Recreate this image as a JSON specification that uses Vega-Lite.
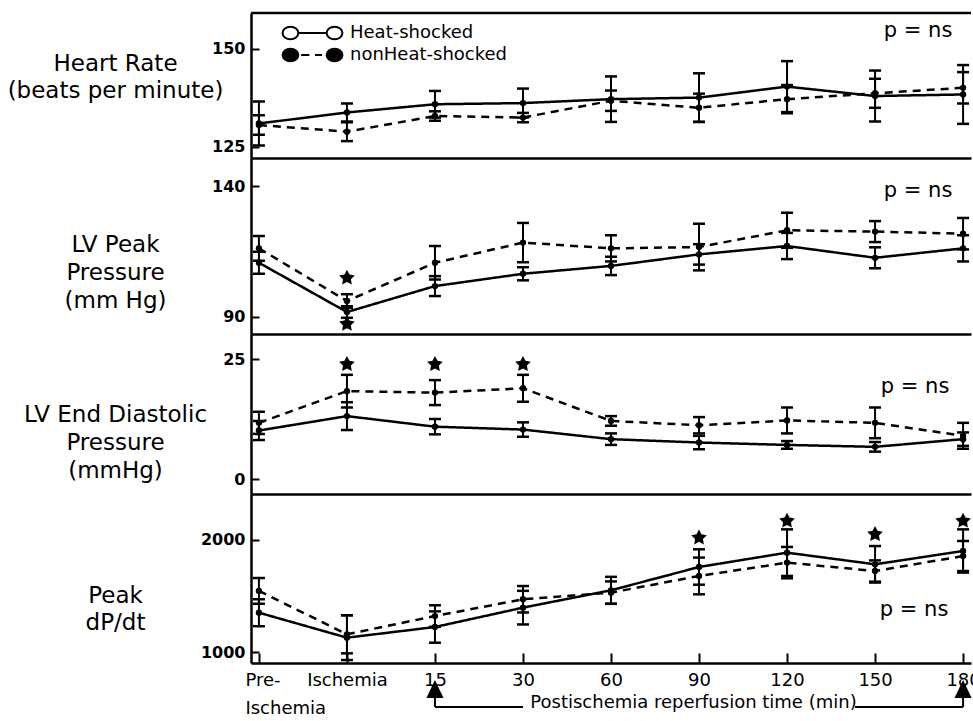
{
  "$schema": "https://vega.github.io/schema/vega-lite/v6.json",
  "background": "white",
  "padding": {"left": 7, "top": 11, "right": 0, "bottom": 2},
  "spacing": 0,
  "bounds": "flush",
  "resolve": {"scale": {"shape": "independent", "fill": "independent", "stroke": "independent"}, "legend": {"shape": "independent", "fill": "independent", "stroke": "independent"}},
  "config": {
    "font": "DejaVu Sans",
    "view": {"stroke": null},
    "axis": {"domainColor": "black", "domainWidth": 2.5, "tickColor": "black", "tickWidth": 2, "grid": false, "labelColor": "black", "titleColor": "black", "labelFont": "DejaVu Sans", "titleFont": "DejaVu Sans"}
  },
  "datasets": {
    "pts": [
      {"p": "HR", "t": "Pre-Ischemia", "s": "Heat-shocked", "v": 131.0, "lo": 125.4, "hi": 136.6},
      {"p": "HR", "t": "Pre-Ischemia", "s": "nonHeat-shocked", "v": 130.6, "lo": 128.1, "hi": 133.1},
      {"p": "HR", "t": "Ischemia", "s": "Heat-shocked", "v": 133.8, "lo": 131.5, "hi": 136.1},
      {"p": "HR", "t": "Ischemia", "s": "nonHeat-shocked", "v": 128.9, "lo": 126.5, "hi": 131.3},
      {"p": "HR", "t": "15", "s": "Heat-shocked", "v": 135.9, "lo": 132.5, "hi": 139.3},
      {"p": "HR", "t": "15", "s": "nonHeat-shocked", "v": 132.9, "lo": 131.7, "hi": 134.1},
      {"p": "HR", "t": "30", "s": "Heat-shocked", "v": 136.2, "lo": 132.5, "hi": 139.9},
      {"p": "HR", "t": "30", "s": "nonHeat-shocked", "v": 132.5, "lo": 131.3, "hi": 133.7},
      {"p": "HR", "t": "60", "s": "Heat-shocked", "v": 137.2, "lo": 131.4, "hi": 143.0},
      {"p": "HR", "t": "60", "s": "nonHeat-shocked", "v": 136.8, "lo": 134.2, "hi": 139.4},
      {"p": "HR", "t": "90", "s": "Heat-shocked", "v": 137.6, "lo": 131.4, "hi": 143.8},
      {"p": "HR", "t": "90", "s": "nonHeat-shocked", "v": 135.0, "lo": 131.4, "hi": 138.6},
      {"p": "HR", "t": "120", "s": "Heat-shocked", "v": 140.4, "lo": 133.9, "hi": 146.9},
      {"p": "HR", "t": "120", "s": "nonHeat-shocked", "v": 137.2, "lo": 133.6, "hi": 140.8},
      {"p": "HR", "t": "150", "s": "Heat-shocked", "v": 138.0, "lo": 131.5, "hi": 144.5},
      {"p": "HR", "t": "150", "s": "nonHeat-shocked", "v": 138.7, "lo": 135.0, "hi": 142.4},
      {"p": "HR", "t": "180", "s": "Heat-shocked", "v": 138.4, "lo": 130.9, "hi": 145.9},
      {"p": "HR", "t": "180", "s": "nonHeat-shocked", "v": 140.1, "lo": 136.1, "hi": 144.1},

      {"p": "LVP", "t": "Pre-Ischemia", "s": "Heat-shocked", "v": 110.7, "lo": 106.5, "hi": 114.9},
      {"p": "LVP", "t": "Pre-Ischemia", "s": "nonHeat-shocked", "v": 116.2, "lo": 111.5, "hi": 120.9},
      {"p": "LVP", "t": "Ischemia", "s": "Heat-shocked", "v": 91.9, "lo": 89.7, "hi": 94.1},
      {"p": "LVP", "t": "Ischemia", "s": "nonHeat-shocked", "v": 96.1, "lo": 93.5, "hi": 98.7},
      {"p": "LVP", "t": "15", "s": "Heat-shocked", "v": 101.8, "lo": 98.0, "hi": 105.6},
      {"p": "LVP", "t": "15", "s": "nonHeat-shocked", "v": 110.7, "lo": 104.3, "hi": 117.1},
      {"p": "LVP", "t": "30", "s": "Heat-shocked", "v": 106.5, "lo": 104.0, "hi": 109.0},
      {"p": "LVP", "t": "30", "s": "nonHeat-shocked", "v": 118.4, "lo": 110.9, "hi": 125.9},
      {"p": "LVP", "t": "60", "s": "Heat-shocked", "v": 109.5, "lo": 106.0, "hi": 113.0},
      {"p": "LVP", "t": "60", "s": "nonHeat-shocked", "v": 116.2, "lo": 111.2, "hi": 121.2},
      {"p": "LVP", "t": "90", "s": "Heat-shocked", "v": 113.9, "lo": 110.0, "hi": 117.8},
      {"p": "LVP", "t": "90", "s": "nonHeat-shocked", "v": 116.7, "lo": 107.8, "hi": 125.6},
      {"p": "LVP", "t": "120", "s": "Heat-shocked", "v": 117.1, "lo": 112.1, "hi": 122.1},
      {"p": "LVP", "t": "120", "s": "nonHeat-shocked", "v": 123.1, "lo": 116.4, "hi": 129.8},
      {"p": "LVP", "t": "150", "s": "Heat-shocked", "v": 112.6, "lo": 108.6, "hi": 116.6},
      {"p": "LVP", "t": "150", "s": "nonHeat-shocked", "v": 122.6, "lo": 118.6, "hi": 126.6},
      {"p": "LVP", "t": "180", "s": "Heat-shocked", "v": 116.2, "lo": 111.2, "hi": 121.2},
      {"p": "LVP", "t": "180", "s": "nonHeat-shocked", "v": 121.8, "lo": 115.8, "hi": 127.8},

      {"p": "EDP", "t": "Pre-Ischemia", "s": "Heat-shocked", "v": 10.1, "lo": 8.1, "hi": 12.1},
      {"p": "EDP", "t": "Pre-Ischemia", "s": "nonHeat-shocked", "v": 11.7, "lo": 9.4, "hi": 14.0},
      {"p": "EDP", "t": "Ischemia", "s": "Heat-shocked", "v": 13.1, "lo": 10.2, "hi": 16.0},
      {"p": "EDP", "t": "Ischemia", "s": "nonHeat-shocked", "v": 18.3, "lo": 14.9, "hi": 21.7},
      {"p": "EDP", "t": "15", "s": "Heat-shocked", "v": 10.9, "lo": 9.3, "hi": 12.5},
      {"p": "EDP", "t": "15", "s": "nonHeat-shocked", "v": 18.0, "lo": 15.4, "hi": 20.6},
      {"p": "EDP", "t": "30", "s": "Heat-shocked", "v": 10.3, "lo": 8.8, "hi": 11.8},
      {"p": "EDP", "t": "30", "s": "nonHeat-shocked", "v": 18.9, "lo": 16.1, "hi": 21.7},
      {"p": "EDP", "t": "60", "s": "Heat-shocked", "v": 8.3, "lo": 7.1, "hi": 9.5},
      {"p": "EDP", "t": "60", "s": "nonHeat-shocked", "v": 12.1, "lo": 11.1, "hi": 13.1},
      {"p": "EDP", "t": "90", "s": "Heat-shocked", "v": 7.6, "lo": 6.2, "hi": 9.0},
      {"p": "EDP", "t": "90", "s": "nonHeat-shocked", "v": 11.2, "lo": 9.5, "hi": 12.9},
      {"p": "EDP", "t": "120", "s": "Heat-shocked", "v": 7.1, "lo": 6.3, "hi": 7.9},
      {"p": "EDP", "t": "120", "s": "nonHeat-shocked", "v": 12.2, "lo": 9.5, "hi": 14.9},
      {"p": "EDP", "t": "150", "s": "Heat-shocked", "v": 6.7, "lo": 5.7, "hi": 7.7},
      {"p": "EDP", "t": "150", "s": "nonHeat-shocked", "v": 11.7, "lo": 8.5, "hi": 14.9},
      {"p": "EDP", "t": "180", "s": "Heat-shocked", "v": 8.3, "lo": 6.9, "hi": 9.7},
      {"p": "EDP", "t": "180", "s": "nonHeat-shocked", "v": 9.0, "lo": 6.3, "hi": 11.7},

      {"p": "DPDT", "t": "Pre-Ischemia", "s": "Heat-shocked", "v": 1351, "lo": 1231, "hi": 1471},
      {"p": "DPDT", "t": "Pre-Ischemia", "s": "nonHeat-shocked", "v": 1545, "lo": 1430, "hi": 1660},
      {"p": "DPDT", "t": "Ischemia", "s": "Heat-shocked", "v": 1128, "lo": 928, "hi": 1328},
      {"p": "DPDT", "t": "Ischemia", "s": "nonHeat-shocked", "v": 1158, "lo": 988, "hi": 1328},
      {"p": "DPDT", "t": "15", "s": "Heat-shocked", "v": 1223, "lo": 1083, "hi": 1363},
      {"p": "DPDT", "t": "15", "s": "nonHeat-shocked", "v": 1321, "lo": 1225, "hi": 1417},
      {"p": "DPDT", "t": "30", "s": "Heat-shocked", "v": 1396, "lo": 1246, "hi": 1546},
      {"p": "DPDT", "t": "30", "s": "nonHeat-shocked", "v": 1471, "lo": 1353, "hi": 1589},
      {"p": "DPDT", "t": "60", "s": "Heat-shocked", "v": 1551, "lo": 1431, "hi": 1671},
      {"p": "DPDT", "t": "60", "s": "nonHeat-shocked", "v": 1530, "lo": 1430, "hi": 1630},
      {"p": "DPDT", "t": "90", "s": "Heat-shocked", "v": 1759, "lo": 1601, "hi": 1917},
      {"p": "DPDT", "t": "90", "s": "nonHeat-shocked", "v": 1679, "lo": 1515, "hi": 1843},
      {"p": "DPDT", "t": "120", "s": "Heat-shocked", "v": 1887, "lo": 1679, "hi": 2095},
      {"p": "DPDT", "t": "120", "s": "nonHeat-shocked", "v": 1798, "lo": 1658, "hi": 1938},
      {"p": "DPDT", "t": "150", "s": "Heat-shocked", "v": 1783, "lo": 1620, "hi": 1946},
      {"p": "DPDT", "t": "150", "s": "nonHeat-shocked", "v": 1723, "lo": 1628, "hi": 1818},
      {"p": "DPDT", "t": "180", "s": "Heat-shocked", "v": 1902, "lo": 1709, "hi": 2095},
      {"p": "DPDT", "t": "180", "s": "nonHeat-shocked", "v": 1857, "lo": 1723, "hi": 1991}
    ],
    "stars": [
      {"p": "LVP", "t": "Ischemia", "v": 104.9},
      {"p": "LVP", "t": "Ischemia", "v": 87.3},
      {"p": "EDP", "t": "Ischemia", "v": 23.9},
      {"p": "EDP", "t": "15", "v": 23.9},
      {"p": "EDP", "t": "30", "v": 23.9},
      {"p": "DPDT", "t": "90", "v": 2020},
      {"p": "DPDT", "t": "120", "v": 2170},
      {"p": "DPDT", "t": "150", "v": 2051},
      {"p": "DPDT", "t": "180", "v": 2170}
    ],
    "notes": [
      {"p": "HR", "t": "150", "v": 153.1, "label": "p = ns"},
      {"p": "LVP", "t": "150", "v": 135.8, "label": "p = ns"},
      {"p": "EDP", "t": "150", "v": 17.9, "label": "p = ns"},
      {"p": "DPDT", "t": "150", "v": 1321, "label": "p = ns"}
    ],
    "leg": [
      {"series": "Heat-shocked"},
      {"series": "nonHeat-shocked"}
    ],
    "arrows": [
      {"t": "15", "v": 670, "top": 589, "bottom": 509},
      {"t": "180", "v": 670, "top": 589, "bottom": 509}
    ],
    "spans": [
      {"a": "15", "b": "30", "v": 509}
    ],
    "spans2": [
      {"a": "150", "b": "180", "v": 509}
    ]
  },
  "vconcat": [
    {
      "width": 720,
      "height": 145,
      "layer": [
        {"data": {"values": [{"top": 159.18}]}, "mark": {"type": "rule", "color": "black", "strokeWidth": 2.5},
         "encoding": {"y": {"field": "top", "type": "quantitative", "scale": {"domain": [122.19, 159.18], "zero": false, "nice": false}}}},
        {"data": {"name": "pts"}, "transform": [{"filter": "datum.p === 'HR'"}],
         "mark": {"type": "line", "color": "black", "strokeWidth": 2.5},
         "encoding": {
           "x": {"field": "t", "type": "ordinal", "scale": {"type": "point", "domain": ["Pre-Ischemia", "Ischemia", "15", "30", "60", "90", "120", "150", "180"], "padding": 0.09}, "axis": {"labels": false, "ticks": false, "title": null}},
           "y": {"field": "v", "type": "quantitative", "scale": {"domain": [122.19, 159.18], "zero": false, "nice": false},
                 "axis": {"values": [125, 150], "title": ["Heart Rate", "(beats per minute)"], "titleY": 50, "titleX": -136, "titleAngle": 0, "titleAlign": "center", "titleBaseline": "middle", "titleFontSize": 23, "titleFontWeight": "normal", "titleLineHeight": 27, "tickSize": -8, "labelPadding": 14, "labelFontSize": 16, "labelFontWeight": "bold"}},
           "strokeDash": {"field": "s", "type": "nominal", "scale": {"domain": ["Heat-shocked", "nonHeat-shocked"], "range": [[1, 0], [8, 6]]}, "legend": null}
         }},
        {"data": {"name": "pts"}, "transform": [{"filter": "datum.p === 'HR'"}],
         "mark": {"type": "rule", "color": "black", "strokeWidth": 2},
         "encoding": {
           "x": {"field": "t", "type": "ordinal", "scale": {"type": "point", "domain": ["Pre-Ischemia", "Ischemia", "15", "30", "60", "90", "120", "150", "180"], "padding": 0.09}, "axis": {"labels": false, "ticks": false, "title": null}},
           "y": {"field": "lo", "type": "quantitative", "scale": {"domain": [122.19, 159.18], "zero": false, "nice": false}},
           "y2": {"field": "hi"}
         }},
        {"data": {"name": "pts"}, "transform": [{"filter": "datum.p === 'HR'"}],
         "mark": {"type": "tick", "color": "black", "size": 12, "thickness": 2.5, "orient": "horizontal", "opacity": 1},
         "encoding": {
           "x": {"field": "t", "type": "ordinal", "scale": {"type": "point", "domain": ["Pre-Ischemia", "Ischemia", "15", "30", "60", "90", "120", "150", "180"], "padding": 0.09}, "axis": {"labels": false, "ticks": false, "title": null}},
           "y": {"field": "lo", "type": "quantitative", "scale": {"domain": [122.19, 159.18], "zero": false, "nice": false}}
         }},
        {"data": {"name": "pts"}, "transform": [{"filter": "datum.p === 'HR'"}],
         "mark": {"type": "tick", "color": "black", "size": 12, "thickness": 2.5, "orient": "horizontal", "opacity": 1},
         "encoding": {
           "x": {"field": "t", "type": "ordinal", "scale": {"type": "point", "domain": ["Pre-Ischemia", "Ischemia", "15", "30", "60", "90", "120", "150", "180"], "padding": 0.09}, "axis": {"labels": false, "ticks": false, "title": null}},
           "y": {"field": "hi", "type": "quantitative", "scale": {"domain": [122.19, 159.18], "zero": false, "nice": false}}
         }},
        {"data": {"name": "pts"}, "transform": [{"filter": "datum.p === 'HR'"}],
         "mark": {"type": "point", "filled": true, "color": "black", "size": 40, "opacity": 1},
         "encoding": {
           "x": {"field": "t", "type": "ordinal", "scale": {"type": "point", "domain": ["Pre-Ischemia", "Ischemia", "15", "30", "60", "90", "120", "150", "180"], "padding": 0.09}, "axis": {"labels": false, "ticks": false, "title": null}},
           "y": {"field": "v", "type": "quantitative", "scale": {"domain": [122.19, 159.18], "zero": false, "nice": false}}
         }},
        {"data": {"name": "notes"}, "transform": [{"filter": "datum.p === 'HR'"}],
         "mark": {"type": "text", "fontSize": 21, "align": "center", "baseline": "alphabetic", "dx": 43, "color": "black", "font": "DejaVu Sans"},
         "encoding": {
           "x": {"field": "t", "type": "ordinal", "scale": {"type": "point", "domain": ["Pre-Ischemia", "Ischemia", "15", "30", "60", "90", "120", "150", "180"], "padding": 0.09}, "axis": {"labels": false, "ticks": false, "title": null}},
           "y": {"field": "v", "type": "quantitative", "scale": {"domain": [122.19, 159.18], "zero": false, "nice": false}},
           "text": {"field": "label"}
         }},
        {"data": {"name": "leg"},
         "mark": {"type": "point", "size": 3969, "strokeWidth": 2, "opacity": 0},
         "encoding": {
           "shape": {"field": "series", "type": "nominal",
             "scale": {"domain": ["Heat-shocked", "nonHeat-shocked"],
                       "range": ["M-0.95,0A0.25,0.2 0 1,0 -0.45,0A0.25,0.2 0 1,0 -0.95,0ZM-0.45,0L0.45,0M0.45,0A0.25,0.2 0 1,0 0.95,0A0.25,0.2 0 1,0 0.45,0Z",
                                 "M-0.95,0A0.25,0.2 0 1,0 -0.45,0A0.25,0.2 0 1,0 -0.95,0ZM-0.36,0L-0.1,0M0.08,0L0.3,0M0.45,0A0.25,0.2 0 1,0 0.95,0A0.25,0.2 0 1,0 0.45,0Z"]},
             "legend": {"orient": "none", "legendX": 29, "legendY": 9, "title": null, "padding": 0, "clipHeight": 22, "rowPadding": 0, "labelOffset": 5, "labelFontSize": 18, "labelFont": "DejaVu Sans", "labelColor": "black", "symbolSize": 3969, "symbolOpacity": 1, "symbolStrokeWidth": 2}
           },
           "fill": {"field": "series", "type": "nominal",
             "scale": {"domain": ["Heat-shocked", "nonHeat-shocked"], "range": ["white", "black"]},
             "legend": {"orient": "none", "legendX": 29, "legendY": 9, "title": null, "padding": 0, "clipHeight": 22, "rowPadding": 0, "labelOffset": 5, "labelFontSize": 18, "labelFont": "DejaVu Sans", "labelColor": "black", "symbolSize": 3969, "symbolOpacity": 1, "symbolStrokeWidth": 2}
           },
           "stroke": {"field": "series", "type": "nominal",
             "scale": {"domain": ["Heat-shocked", "nonHeat-shocked"], "range": ["black", "black"]},
             "legend": {"orient": "none", "legendX": 29, "legendY": 9, "title": null, "padding": 0, "clipHeight": 22, "rowPadding": 0, "labelOffset": 5, "labelFontSize": 18, "labelFont": "DejaVu Sans", "labelColor": "black", "symbolSize": 3969, "symbolOpacity": 1, "symbolStrokeWidth": 2}
           }
         }}
      ]
    },
    {
      "width": 720,
      "height": 176,
      "layer": [
        {"data": {"name": "pts"}, "transform": [{"filter": "datum.p === 'LVP'"}],
         "mark": {"type": "line", "color": "black", "strokeWidth": 2.5},
         "encoding": {
           "x": {"field": "t", "type": "ordinal", "scale": {"type": "point", "domain": ["Pre-Ischemia", "Ischemia", "15", "30", "60", "90", "120", "150", "180"], "padding": 0.09}, "axis": {"labels": false, "ticks": false, "title": null}},
           "y": {"field": "v", "type": "quantitative", "scale": {"domain": [83.51, 150.69], "zero": false, "nice": false},
                 "axis": {"values": [90, 140], "title": ["LV Peak", "Pressure", "(mm Hg)"], "titleY": 86, "titleX": -136, "titleAngle": 0, "titleAlign": "center", "titleBaseline": "middle", "titleFontSize": 23, "titleFontWeight": "normal", "titleLineHeight": 28, "tickSize": -8, "labelPadding": 14, "labelFontSize": 16, "labelFontWeight": "bold"}},
           "strokeDash": {"field": "s", "type": "nominal", "scale": {"domain": ["Heat-shocked", "nonHeat-shocked"], "range": [[1, 0], [8, 6]]}, "legend": null}
         }},
        {"data": {"name": "pts"}, "transform": [{"filter": "datum.p === 'LVP'"}],
         "mark": {"type": "rule", "color": "black", "strokeWidth": 2},
         "encoding": {
           "x": {"field": "t", "type": "ordinal", "scale": {"type": "point", "domain": ["Pre-Ischemia", "Ischemia", "15", "30", "60", "90", "120", "150", "180"], "padding": 0.09}, "axis": {"labels": false, "ticks": false, "title": null}},
           "y": {"field": "lo", "type": "quantitative", "scale": {"domain": [83.51, 150.69], "zero": false, "nice": false}},
           "y2": {"field": "hi"}
         }},
        {"data": {"name": "pts"}, "transform": [{"filter": "datum.p === 'LVP'"}],
         "mark": {"type": "tick", "color": "black", "size": 12, "thickness": 2.5, "orient": "horizontal", "opacity": 1},
         "encoding": {
           "x": {"field": "t", "type": "ordinal", "scale": {"type": "point", "domain": ["Pre-Ischemia", "Ischemia", "15", "30", "60", "90", "120", "150", "180"], "padding": 0.09}, "axis": {"labels": false, "ticks": false, "title": null}},
           "y": {"field": "lo", "type": "quantitative", "scale": {"domain": [83.51, 150.69], "zero": false, "nice": false}}
         }},
        {"data": {"name": "pts"}, "transform": [{"filter": "datum.p === 'LVP'"}],
         "mark": {"type": "tick", "color": "black", "size": 12, "thickness": 2.5, "orient": "horizontal", "opacity": 1},
         "encoding": {
           "x": {"field": "t", "type": "ordinal", "scale": {"type": "point", "domain": ["Pre-Ischemia", "Ischemia", "15", "30", "60", "90", "120", "150", "180"], "padding": 0.09}, "axis": {"labels": false, "ticks": false, "title": null}},
           "y": {"field": "hi", "type": "quantitative", "scale": {"domain": [83.51, 150.69], "zero": false, "nice": false}}
         }},
        {"data": {"name": "pts"}, "transform": [{"filter": "datum.p === 'LVP'"}],
         "mark": {"type": "point", "filled": true, "color": "black", "size": 40, "opacity": 1},
         "encoding": {
           "x": {"field": "t", "type": "ordinal", "scale": {"type": "point", "domain": ["Pre-Ischemia", "Ischemia", "15", "30", "60", "90", "120", "150", "180"], "padding": 0.09}, "axis": {"labels": false, "ticks": false, "title": null}},
           "y": {"field": "v", "type": "quantitative", "scale": {"domain": [83.51, 150.69], "zero": false, "nice": false}}
         }},
        {"data": {"name": "stars"}, "transform": [{"filter": "datum.p === 'LVP'"}],
         "mark": {"type": "point", "filled": true, "color": "black", "size": 270, "opacity": 1, "shape": "M0,-1L0.3,-0.42L0.951,-0.309L0.48,0.15L0.588,0.809L0,0.5L-0.588,0.809L-0.48,0.15L-0.951,-0.309L-0.3,-0.42Z"},
         "encoding": {
           "x": {"field": "t", "type": "ordinal", "scale": {"type": "point", "domain": ["Pre-Ischemia", "Ischemia", "15", "30", "60", "90", "120", "150", "180"], "padding": 0.09}, "axis": {"labels": false, "ticks": false, "title": null}},
           "y": {"field": "v", "type": "quantitative", "scale": {"domain": [83.51, 150.69], "zero": false, "nice": false}}
         }},
        {"data": {"name": "notes"}, "transform": [{"filter": "datum.p === 'LVP'"}],
         "mark": {"type": "text", "fontSize": 21, "align": "center", "baseline": "alphabetic", "dx": 43, "color": "black", "font": "DejaVu Sans"},
         "encoding": {
           "x": {"field": "t", "type": "ordinal", "scale": {"type": "point", "domain": ["Pre-Ischemia", "Ischemia", "15", "30", "60", "90", "120", "150", "180"], "padding": 0.09}, "axis": {"labels": false, "ticks": false, "title": null}},
           "y": {"field": "v", "type": "quantitative", "scale": {"domain": [83.51, 150.69], "zero": false, "nice": false}},
           "text": {"field": "label"}
         }}
      ]
    },
    {
      "width": 720,
      "height": 160,
      "layer": [
        {"data": {"name": "pts"}, "transform": [{"filter": "datum.p === 'EDP'"}],
         "mark": {"type": "line", "color": "black", "strokeWidth": 2.5},
         "encoding": {
           "x": {"field": "t", "type": "ordinal", "scale": {"type": "point", "domain": ["Pre-Ischemia", "Ischemia", "15", "30", "60", "90", "120", "150", "180"], "padding": 0.09}, "axis": {"labels": false, "ticks": false, "title": null}},
           "y": {"field": "v", "type": "quantitative", "scale": {"domain": [-3.125, 30.21], "zero": false, "nice": false},
                 "axis": {"values": [0, 25], "title": ["LV End Diastolic", "Pressure", "(mmHg)"], "titleY": 80, "titleX": -136, "titleAngle": 0, "titleAlign": "center", "titleBaseline": "middle", "titleFontSize": 23, "titleFontWeight": "normal", "titleLineHeight": 28, "tickSize": -8, "labelPadding": 14, "labelFontSize": 16, "labelFontWeight": "bold"}},
           "strokeDash": {"field": "s", "type": "nominal", "scale": {"domain": ["Heat-shocked", "nonHeat-shocked"], "range": [[1, 0], [8, 6]]}, "legend": null}
         }},
        {"data": {"name": "pts"}, "transform": [{"filter": "datum.p === 'EDP'"}],
         "mark": {"type": "rule", "color": "black", "strokeWidth": 2},
         "encoding": {
           "x": {"field": "t", "type": "ordinal", "scale": {"type": "point", "domain": ["Pre-Ischemia", "Ischemia", "15", "30", "60", "90", "120", "150", "180"], "padding": 0.09}, "axis": {"labels": false, "ticks": false, "title": null}},
           "y": {"field": "lo", "type": "quantitative", "scale": {"domain": [-3.125, 30.21], "zero": false, "nice": false}},
           "y2": {"field": "hi"}
         }},
        {"data": {"name": "pts"}, "transform": [{"filter": "datum.p === 'EDP'"}],
         "mark": {"type": "tick", "color": "black", "size": 12, "thickness": 2.5, "orient": "horizontal", "opacity": 1},
         "encoding": {
           "x": {"field": "t", "type": "ordinal", "scale": {"type": "point", "domain": ["Pre-Ischemia", "Ischemia", "15", "30", "60", "90", "120", "150", "180"], "padding": 0.09}, "axis": {"labels": false, "ticks": false, "title": null}},
           "y": {"field": "lo", "type": "quantitative", "scale": {"domain": [-3.125, 30.21], "zero": false, "nice": false}}
         }},
        {"data": {"name": "pts"}, "transform": [{"filter": "datum.p === 'EDP'"}],
         "mark": {"type": "tick", "color": "black", "size": 12, "thickness": 2.5, "orient": "horizontal", "opacity": 1},
         "encoding": {
           "x": {"field": "t", "type": "ordinal", "scale": {"type": "point", "domain": ["Pre-Ischemia", "Ischemia", "15", "30", "60", "90", "120", "150", "180"], "padding": 0.09}, "axis": {"labels": false, "ticks": false, "title": null}},
           "y": {"field": "hi", "type": "quantitative", "scale": {"domain": [-3.125, 30.21], "zero": false, "nice": false}}
         }},
        {"data": {"name": "pts"}, "transform": [{"filter": "datum.p === 'EDP'"}],
         "mark": {"type": "point", "filled": true, "color": "black", "size": 40, "opacity": 1},
         "encoding": {
           "x": {"field": "t", "type": "ordinal", "scale": {"type": "point", "domain": ["Pre-Ischemia", "Ischemia", "15", "30", "60", "90", "120", "150", "180"], "padding": 0.09}, "axis": {"labels": false, "ticks": false, "title": null}},
           "y": {"field": "v", "type": "quantitative", "scale": {"domain": [-3.125, 30.21], "zero": false, "nice": false}}
         }},
        {"data": {"name": "stars"}, "transform": [{"filter": "datum.p === 'EDP'"}],
         "mark": {"type": "point", "filled": true, "color": "black", "size": 270, "opacity": 1, "shape": "M0,-1L0.3,-0.42L0.951,-0.309L0.48,0.15L0.588,0.809L0,0.5L-0.588,0.809L-0.48,0.15L-0.951,-0.309L-0.3,-0.42Z"},
         "encoding": {
           "x": {"field": "t", "type": "ordinal", "scale": {"type": "point", "domain": ["Pre-Ischemia", "Ischemia", "15", "30", "60", "90", "120", "150", "180"], "padding": 0.09}, "axis": {"labels": false, "ticks": false, "title": null}},
           "y": {"field": "v", "type": "quantitative", "scale": {"domain": [-3.125, 30.21], "zero": false, "nice": false}}
         }},
        {"data": {"name": "notes"}, "transform": [{"filter": "datum.p === 'EDP'"}],
         "mark": {"type": "text", "fontSize": 21, "align": "center", "baseline": "alphabetic", "dx": 40, "color": "black", "font": "DejaVu Sans"},
         "encoding": {
           "x": {"field": "t", "type": "ordinal", "scale": {"type": "point", "domain": ["Pre-Ischemia", "Ischemia", "15", "30", "60", "90", "120", "150", "180"], "padding": 0.09}, "axis": {"labels": false, "ticks": false, "title": null}},
           "y": {"field": "v", "type": "quantitative", "scale": {"domain": [-3.125, 30.21], "zero": false, "nice": false}},
           "text": {"field": "label"}
         }}
      ]
    },
    {
      "width": 720,
      "height": 169,
      "layer": [
        {"data": {"name": "pts"}, "transform": [{"filter": "datum.p === 'DPDT'"}],
         "mark": {"type": "line", "color": "black", "strokeWidth": 2.5},
         "encoding": {
           "x": {"field": "t", "type": "ordinal", "scale": {"type": "point", "domain": ["Pre-Ischemia", "Ischemia", "15", "30", "60", "90", "120", "150", "180"], "padding": 0.09},
                 "axis": {"labels": true, "ticks": true, "tickSize": -10, "labelPadding": 18, "labelFontSize": 18, "labelFontWeight": "normal", "labelLineHeight": 28, "labelBaseline": "top", "labelOverlap": false, "labelAngle": 0,
                          "labelExpr": "datum.value === 'Pre-Ischemia' ? ['Pre-', 'Ischemia'] : datum.value",
                          "labelAlign": {"condition": {"test": "datum.value === 'Pre-Ischemia'", "value": "left"}, "value": "center"},
                          "labelOffset": {"condition": {"test": "datum.value === 'Pre-Ischemia'", "value": -14}, "value": 0},
                          "title": "Postischemia reperfusion time (min)", "titleX": 442, "titleY": 44, "titleAlign": "center", "titleBaseline": "alphabetic", "titleFontSize": 18, "titleFontWeight": "normal"}},
           "y": {"field": "v", "type": "quantitative", "scale": {"domain": [901.8, 2410.7], "zero": false, "nice": false},
                 "axis": {"values": [1000, 2000], "format": "d", "title": ["Peak", "dP/dt"], "titleY": 101, "titleX": -136, "titleAngle": 0, "titleAlign": "center", "titleBaseline": "middle", "titleFontSize": 23, "titleFontWeight": "normal", "titleLineHeight": 27, "tickSize": -8, "labelPadding": 14, "labelFontSize": 16, "labelFontWeight": "bold"}},
           "strokeDash": {"field": "s", "type": "nominal", "scale": {"domain": ["Heat-shocked", "nonHeat-shocked"], "range": [[1, 0], [8, 6]]}, "legend": null}
         }},
        {"data": {"name": "pts"}, "transform": [{"filter": "datum.p === 'DPDT'"}],
         "mark": {"type": "rule", "color": "black", "strokeWidth": 2},
         "encoding": {
           "x": {"field": "t", "type": "ordinal", "scale": {"type": "point", "domain": ["Pre-Ischemia", "Ischemia", "15", "30", "60", "90", "120", "150", "180"], "padding": 0.09}},
           "y": {"field": "lo", "type": "quantitative", "scale": {"domain": [901.8, 2410.7], "zero": false, "nice": false}},
           "y2": {"field": "hi"}
         }},
        {"data": {"name": "pts"}, "transform": [{"filter": "datum.p === 'DPDT'"}],
         "mark": {"type": "tick", "color": "black", "size": 12, "thickness": 2.5, "orient": "horizontal", "opacity": 1},
         "encoding": {
           "x": {"field": "t", "type": "ordinal", "scale": {"type": "point", "domain": ["Pre-Ischemia", "Ischemia", "15", "30", "60", "90", "120", "150", "180"], "padding": 0.09}},
           "y": {"field": "lo", "type": "quantitative", "scale": {"domain": [901.8, 2410.7], "zero": false, "nice": false}}
         }},
        {"data": {"name": "pts"}, "transform": [{"filter": "datum.p === 'DPDT'"}],
         "mark": {"type": "tick", "color": "black", "size": 12, "thickness": 2.5, "orient": "horizontal", "opacity": 1},
         "encoding": {
           "x": {"field": "t", "type": "ordinal", "scale": {"type": "point", "domain": ["Pre-Ischemia", "Ischemia", "15", "30", "60", "90", "120", "150", "180"], "padding": 0.09}},
           "y": {"field": "hi", "type": "quantitative", "scale": {"domain": [901.8, 2410.7], "zero": false, "nice": false}}
         }},
        {"data": {"name": "pts"}, "transform": [{"filter": "datum.p === 'DPDT'"}],
         "mark": {"type": "point", "filled": true, "color": "black", "size": 40, "opacity": 1},
         "encoding": {
           "x": {"field": "t", "type": "ordinal", "scale": {"type": "point", "domain": ["Pre-Ischemia", "Ischemia", "15", "30", "60", "90", "120", "150", "180"], "padding": 0.09}},
           "y": {"field": "v", "type": "quantitative", "scale": {"domain": [901.8, 2410.7], "zero": false, "nice": false}}
         }},
        {"data": {"name": "stars"}, "transform": [{"filter": "datum.p === 'DPDT'"}],
         "mark": {"type": "point", "filled": true, "color": "black", "size": 270, "opacity": 1, "shape": "M0,-1L0.3,-0.42L0.951,-0.309L0.48,0.15L0.588,0.809L0,0.5L-0.588,0.809L-0.48,0.15L-0.951,-0.309L-0.3,-0.42Z"},
         "encoding": {
           "x": {"field": "t", "type": "ordinal", "scale": {"type": "point", "domain": ["Pre-Ischemia", "Ischemia", "15", "30", "60", "90", "120", "150", "180"], "padding": 0.09}},
           "y": {"field": "v", "type": "quantitative", "scale": {"domain": [901.8, 2410.7], "zero": false, "nice": false}}
         }},
        {"data": {"name": "notes"}, "transform": [{"filter": "datum.p === 'DPDT'"}],
         "mark": {"type": "text", "fontSize": 21, "align": "center", "baseline": "alphabetic", "dx": 39, "color": "black", "font": "DejaVu Sans"},
         "encoding": {
           "x": {"field": "t", "type": "ordinal", "scale": {"type": "point", "domain": ["Pre-Ischemia", "Ischemia", "15", "30", "60", "90", "120", "150", "180"], "padding": 0.09}},
           "y": {"field": "v", "type": "quantitative", "scale": {"domain": [901.8, 2410.7], "zero": false, "nice": false}},
           "text": {"field": "label"}
         }},
        {"data": {"name": "arrows"},
         "mark": {"type": "point", "filled": true, "color": "black", "size": 324, "opacity": 1, "shape": "M0,-1L0.95,1L-0.95,1Z"},
         "encoding": {
           "x": {"field": "t", "type": "ordinal", "scale": {"type": "point", "domain": ["Pre-Ischemia", "Ischemia", "15", "30", "60", "90", "120", "150", "180"], "padding": 0.09}},
           "y": {"field": "v", "type": "quantitative", "scale": {"domain": [901.8, 2410.7], "zero": false, "nice": false}}
         }},
        {"data": {"name": "arrows"},
         "mark": {"type": "rule", "color": "black", "strokeWidth": 2},
         "encoding": {
           "x": {"field": "t", "type": "ordinal", "scale": {"type": "point", "domain": ["Pre-Ischemia", "Ischemia", "15", "30", "60", "90", "120", "150", "180"], "padding": 0.09}},
           "y": {"field": "top", "type": "quantitative", "scale": {"domain": [901.8, 2410.7], "zero": false, "nice": false}},
           "y2": {"field": "bottom"}
         }},
        {"data": {"name": "spans"},
         "mark": {"type": "rule", "color": "black", "strokeWidth": 2},
         "encoding": {
           "x": {"field": "a", "type": "ordinal", "scale": {"type": "point", "domain": ["Pre-Ischemia", "Ischemia", "15", "30", "60", "90", "120", "150", "180"], "padding": 0.09}},
           "x2": {"field": "b"},
           "y": {"field": "v", "type": "quantitative", "scale": {"domain": [901.8, 2410.7], "zero": false, "nice": false}}
         }},
        {"data": {"name": "spans2"},
         "mark": {"type": "rule", "color": "black", "strokeWidth": 2, "xOffset": -20},
         "encoding": {
           "x": {"field": "a", "type": "ordinal", "scale": {"type": "point", "domain": ["Pre-Ischemia", "Ischemia", "15", "30", "60", "90", "120", "150", "180"], "padding": 0.09}},
           "x2": {"field": "b"},
           "y": {"field": "v", "type": "quantitative", "scale": {"domain": [901.8, 2410.7], "zero": false, "nice": false}}
         }}
      ]
    }
  ]
}
